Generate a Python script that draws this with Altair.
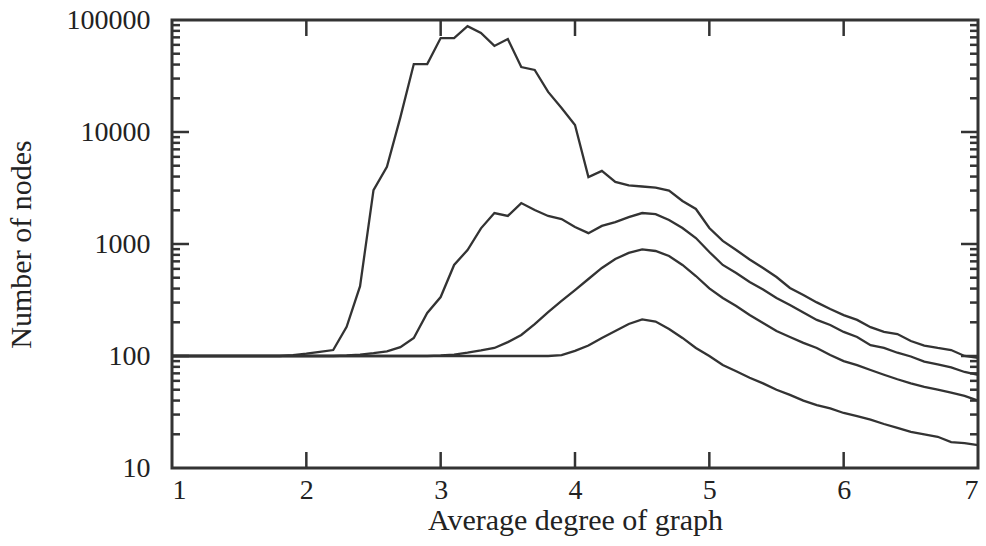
import altair as alt
import pandas as pd

# Average degree of graph (x grid)
degree = [1.0, 1.1, 1.2, 1.3, 1.4, 1.5, 1.6, 1.7, 1.8, 1.9,
          2.0, 2.1, 2.2, 2.3, 2.4, 2.5, 2.6, 2.7, 2.8, 2.9,
          3.0, 3.1, 3.2, 3.3, 3.4, 3.5, 3.6, 3.7, 3.8, 3.9,
          4.0, 4.1, 4.2, 4.3, 4.4, 4.5, 4.6, 4.7, 4.8, 4.9,
          5.0, 5.1, 5.2, 5.3, 5.4, 5.5, 5.6, 5.7, 5.8, 5.9,
          6.0, 6.1, 6.2, 6.3, 6.4, 6.5, 6.6, 6.7, 6.8, 6.9, 7.0]

# Number of nodes, four curves (top to bottom)
curve_1 = [100, 100, 100, 100, 100, 100, 100, 100, 100, 102,
           105, 109, 113, 182, 420, 3030, 4900, 13500, 40400, 40400,
           69000, 69000, 88000, 76600, 58700, 67700, 38000, 35800, 22800, 16400,
           11550, 3960, 4490, 3580, 3330, 3260, 3190, 3000, 2420, 2055,
           1390, 1065, 884, 727, 611, 507, 405, 351, 301, 263,
           232, 210, 181, 164, 157, 136, 124, 118, 113, 100, 96]
curve_2 = [100, 100, 100, 100, 100, 100, 100, 100, 100, 100,
           100, 100, 100, 101, 103, 106, 110, 120, 145, 242,
           336, 650, 884, 1380, 1890, 1780, 2320, 2010, 1780, 1670,
           1420, 1250, 1450, 1570, 1740, 1890, 1850, 1640, 1390, 1130,
           849, 650, 551, 458, 393, 330, 285, 244, 210, 189,
           164, 148, 125, 118, 107, 99, 89, 84, 79, 72, 68]
curve_3 = [100, 100, 100, 100, 100, 100, 100, 100, 100, 100,
           100, 100, 100, 100, 100, 100, 100, 100, 100, 100,
           101, 103, 107, 112, 118, 133, 154, 193, 247, 310,
           388, 487, 611, 735, 832, 894, 866, 781, 650, 518,
           401, 330, 279, 232, 197, 167, 148, 131, 118, 102,
           90, 83, 75, 68, 62, 57, 53, 50, 47, 44, 40]
curve_4 = [100, 100, 100, 100, 100, 100, 100, 100, 100, 100,
           100, 100, 100, 100, 100, 100, 100, 100, 100, 100,
           100, 100, 100, 100, 100, 100, 100, 100, 100, 102,
           111, 124, 145, 167, 193, 212, 203, 174, 145, 118,
           100, 83, 73, 64, 57, 50, 45, 40, 36.5, 34,
           31, 29, 27, 24.7, 22.8, 21, 20, 19, 17, 16.7, 16]

x_labels = [1, 2, 3, 4, 5, 6, 7]
y_labels = [10, 100, 1000, 10000, 100000]
x_major_ticks = [2, 3, 4, 5, 6]
y_major_ticks = [100, 1000, 10000]
y_minor_ticks = [20, 30, 40, 50, 60, 70, 80, 90,
                 200, 300, 400, 500, 600, 700, 800, 900,
                 2000, 3000, 4000, 5000, 6000, 7000, 8000, 9000,
                 20000, 30000, 40000, 50000, 60000, 70000, 80000, 90000]

W, H = 806, 448
FONT = "Liberation Serif"
INK = "#333333"

rows = []
for name, series in [("c1", curve_1), ("c2", curve_2), ("c3", curve_3), ("c4", curve_4)]:
    for d, v in zip(degree, series):
        rows.append({"series": name, "degree": d, "nodes": v})
df = pd.DataFrame(rows)

xscale = alt.Scale(domain=[1, 7], nice=False, zero=False)
yscale = alt.Scale(type="log", domain=[10, 100000], nice=False)

xaxis = alt.Axis(values=x_labels, format="d", ticks=False, domain=False, grid=False,
                 labelPadding=8, titlePadding=1, title="Average degree of graph")
yaxis = alt.Axis(values=y_labels, format="d", ticks=False, domain=False, grid=False,
                 labelPadding=22, titlePadding=30, title="Number of nodes")

lines = alt.Chart(df).mark_line(color=INK, strokeWidth=2.3).encode(
    x=alt.X("degree:Q", scale=xscale, axis=xaxis),
    y=alt.Y("nodes:Q", scale=yscale, axis=yaxis),
    detail="series:N",
)

xt = pd.DataFrame({"t": x_major_ticks})
ymaj = pd.DataFrame({"t": y_major_ticks})
ymin = pd.DataFrame({"t": y_minor_ticks})

tick_style = dict(color=INK, strokeWidth=2.5)

bottom_ticks = alt.Chart(xt).mark_rule(**tick_style).encode(
    x=alt.X("t:Q", scale=xscale, axis=xaxis), y=alt.value(H), y2=alt.value(H - 16))
top_ticks = alt.Chart(xt).mark_rule(**tick_style).encode(
    x=alt.X("t:Q", scale=xscale, axis=xaxis), y=alt.value(0), y2=alt.value(16))
left_major = alt.Chart(ymaj).mark_rule(**tick_style).encode(
    y=alt.Y("t:Q", scale=yscale, axis=yaxis), x=alt.value(0), x2=alt.value(17))
right_major = alt.Chart(ymaj).mark_rule(**tick_style).encode(
    y=alt.Y("t:Q", scale=yscale, axis=yaxis), x=alt.value(W), x2=alt.value(W - 17))
left_minor = alt.Chart(ymin).mark_rule(**tick_style).encode(
    y=alt.Y("t:Q", scale=yscale, axis=yaxis), x=alt.value(0), x2=alt.value(8))
right_minor = alt.Chart(ymin).mark_rule(**tick_style).encode(
    y=alt.Y("t:Q", scale=yscale, axis=yaxis), x=alt.value(W), x2=alt.value(W - 8))

chart = alt.layer(
    lines, bottom_ticks, top_ticks, left_major, right_major, left_minor, right_minor
).properties(
    width=W, height=H,
    autosize=alt.AutoSizeParams(type="none"),
    padding={"left": 172, "top": 20, "right": 8, "bottom": 78},
    background="white",
).configure_view(
    stroke=INK, strokeWidth=3,
).configure_axis(
    labelFont=FONT, titleFont=FONT, labelFontSize=28, titleFontSize=30,
    labelColor="#222222", titleColor="#222222", titleFontWeight="normal",
)

chart.save("out.html", embed_options={"renderer": "svg", "actions": False})
